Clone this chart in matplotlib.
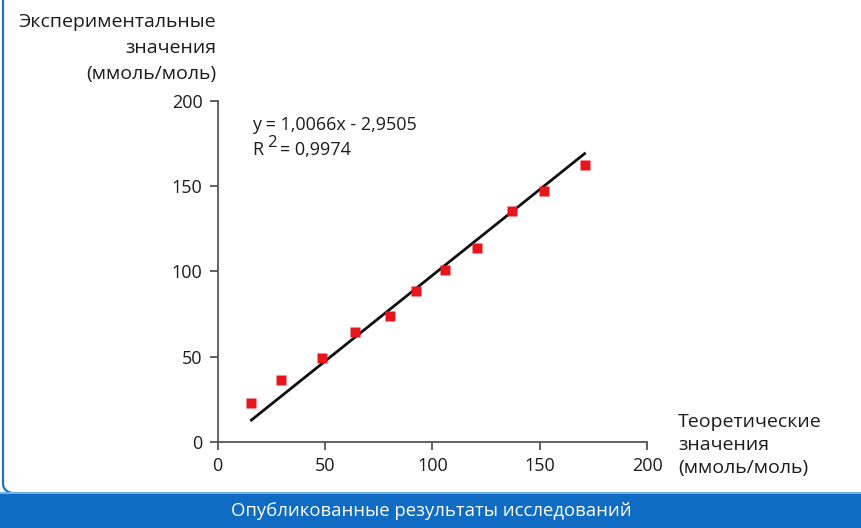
import numpy as np
import matplotlib
matplotlib.use('Agg')
import matplotlib.pyplot as plt
from matplotlib.patches import Rectangle, FancyBboxPatch

plt.rcParams['font.family'] = ['Open Sans', 'DejaVu Sans']

# теоретические vs экспериментальные значения (ммоль/моль)
theor = [15.7, 29.5, 48.6, 63.9, 80.0, 92.1, 105.7, 120.8, 137.0, 152.0, 170.8]
exper = [23.1, 36.5, 49.0, 64.3, 74.1, 88.2, 101.0, 113.7, 135.3, 147.0, 162.2]
slope, intercept, r2 = 1.0066, -2.9505, 0.9974
xticks = [0, 50, 100, 150, 200]
yticks = [0, 50, 100, 150, 200]

TXT = '#1c1c1c'
W, H = 862, 528
fig = plt.figure(figsize=(W / 100, H / 100), dpi=100)
fig.patch.set_facecolor('white')
ax = fig.add_axes([217.7 / W, 86 / H, 429.6 / W, 341.3 / H])

# линия регрессии по уравнению и точки
xx = np.array([min(theor), max(theor)])
ax.plot(xx, slope * xx + intercept, color='#111111', lw=2, zorder=2)
ax.plot(theor, exper, 's', color='#e8161c', ms=7.5, mec='none', zorder=3)

ax.set_xlim(0, 200); ax.set_ylim(0, 200)
ax.set_xticks(xticks); ax.set_yticks(yticks)
for s in ['top', 'right']:
    ax.spines[s].set_visible(False)
for s in ['left', 'bottom']:
    ax.spines[s].set_color('#555555'); ax.spines[s].set_linewidth(1.3)
ax.tick_params(direction='out', length=6, width=1.3, color='#555555',
               labelsize=13, labelcolor=TXT, pad=5)
for lab in ax.get_xticklabels() + ax.get_yticklabels():
    lab.set_fontweight('medium')

eq_kw = dict(transform=ax.transAxes, fontsize=13, color=TXT, va='center', fontweight='medium')
ax.text(0.08, 0.93, f'y = {slope:.4f}x - {-intercept:.4f}'.replace('.', ','), **eq_kw)
# R² с крупной надстрочной двойкой
ax.text(0.08, 0.855, 'R', **eq_kw)
ax.annotate('2', xy=(0.08, 0.855), xycoords='axes fraction', xytext=(11, 5),
            textcoords='offset points', fontsize=12, color=TXT, va='center',
            fontweight='medium')
ax.annotate(f'= {r2:.4f}'.replace('.', ','), xy=(0.08, 0.855), xycoords='axes fraction',
            xytext=(20, 0), textcoords='offset points', fontsize=13, color=TXT,
            va='center', fontweight='medium')

# подписи осей
for txt, y in [('Экспериментальные', 22), ('значения', 48), ('(ммоль/моль)', 74)]:
    fig.text(216 / W, 1 - y / H, txt, ha='right', va='center', fontsize=14,
             color=TXT, fontweight='medium')
for txt, y in [('Теоретические', 422), ('значения', 445), ('(ммоль/моль)', 468)]:
    fig.text(678 / W, 1 - y / H, txt, ha='left', va='center', fontsize=14,
             color=TXT, fontweight='medium')

# рамка и синяя плашка внизу
fig.patches.append(FancyBboxPatch((3 / W, 34 / H), 2, 2, boxstyle='round,pad=0,rounding_size=0.02',
                                  transform=fig.transFigure, fc='none', ec='#1f72c4', lw=1.6))
fig.patches.append(Rectangle((0, 0), 1, 34 / H, transform=fig.transFigure,
                             fc='#0f6cc2', ec='none'))
fig.patches.append(Rectangle((0, 34 / H), 1, 2 / H, transform=fig.transFigure,
                             fc='#6fb3e8', ec='none'))
fig.text(0.5, 17 / H, 'Опубликованные результаты исследований', ha='center', va='center',
         fontsize=13.3, color='white')

fig.savefig('out.png', dpi=100)
